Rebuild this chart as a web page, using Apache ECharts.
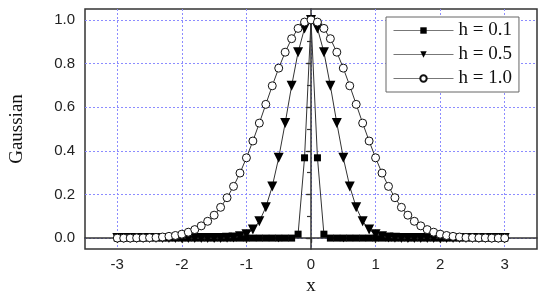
<!DOCTYPE html>
<html>
<head>
<meta charset="utf-8">
<script src="https://cdn.jsdelivr.net/npm/echarts@6/dist/echarts.min.js"></script>
<style>
  html, body { margin: 0; padding: 0; background: #fff; }
  #chart { width: 550px; height: 301px; }
</style>
</head>
<body>
<div id="chart"></div>
<script>
// x positions, step 0.1
const xs = [-3.0, -2.9, -2.8, -2.7, -2.6, -2.5, -2.4, -2.3, -2.2, -2.1,
  -2.0, -1.9, -1.8, -1.7, -1.6, -1.5, -1.4, -1.3, -1.2, -1.1,
  -1.0, -0.9, -0.8, -0.7, -0.6, -0.5, -0.4, -0.3, -0.2, -0.1,
  0.0, 0.1, 0.2, 0.3, 0.4, 0.5, 0.6, 0.7, 0.8, 0.9,
  1.0, 1.1, 1.2, 1.3, 1.4, 1.5, 1.6, 1.7, 1.8, 1.9,
  2.0, 2.1, 2.2, 2.3, 2.4, 2.5, 2.6, 2.7, 2.8, 2.9, 3.0];

const h01 = [0, 0, 0, 0, 0, 0, 0, 0, 0, 0,
  0, 0, 0, 0, 0, 0, 0, 0, 0, 0,
  0, 0, 0, 0, 0, 0, 0, 0, 0.018, 0.368,
  1.0, 0.368, 0.018, 0, 0, 0, 0, 0, 0, 0,
  0, 0, 0, 0, 0, 0, 0, 0, 0, 0,
  0, 0, 0, 0, 0, 0, 0, 0, 0, 0, 0];

const h05 = [0, 0, 0, 0, 0, 0, 0, 0, 0, 0,
  0, 0, 0, 0, 0, 0, 0, 0.001, 0.003, 0.008,
  0.018, 0.039, 0.077, 0.141, 0.237, 0.368, 0.527, 0.698, 0.852, 0.961,
  1.0, 0.961, 0.852, 0.698, 0.527, 0.368, 0.237, 0.141, 0.077, 0.039,
  0.018, 0.008, 0.003, 0.001, 0, 0, 0, 0, 0, 0,
  0, 0, 0, 0, 0, 0, 0, 0, 0, 0, 0];

const h10 = [0, 0, 0, 0.001, 0.001, 0.002, 0.003, 0.005, 0.008, 0.012,
  0.018, 0.027, 0.039, 0.056, 0.077, 0.105, 0.141, 0.185, 0.237, 0.298,
  0.368, 0.445, 0.527, 0.613, 0.698, 0.779, 0.852, 0.914, 0.961, 0.990,
  1.0, 0.990, 0.961, 0.914, 0.852, 0.779, 0.698, 0.613, 0.527, 0.445,
  0.368, 0.298, 0.237, 0.185, 0.141, 0.105, 0.077, 0.056, 0.039, 0.027,
  0.018, 0.012, 0.008, 0.005, 0.003, 0.002, 0.001, 0.001, 0, 0, 0];

const seriesNames = ['h = 0.1', 'h = 0.5', 'h = 1.0'];
const xLabels = [-3, -2, -1, 0, 1, 2, 3];
const xTicks = [-3, -2.5, -2, -1.5, -1, -0.5, 0, 0.5, 1, 1.5, 2, 2.5, 3];
const yLabels = [0, 0.2, 0.4, 0.6, 0.8, 1.0];
const yTicks = [0, 0.1, 0.2, 0.3, 0.4, 0.5, 0.6, 0.7, 0.8, 0.9, 1.0];

const pairs = ys => xs.map((x, i) => [x, ys[i]]);

const chart = echarts.init(document.getElementById('chart'));

const lineCol = '#333';
const labelStyle = { fontFamily: 'Liberation Sans', fontSize: 15, color: '#222' };
const nameStyle = { fontFamily: 'Liberation Serif', fontSize: 19, color: '#111' };
const gridLine = { show: true, lineStyle: { color: '#8c8cff', type: [2, 2], width: 1 } };
const tickLine = { color: '#333', width: 1.2 };

chart.setOption({
  animation: false,
  grid: {
    left: 83, right: 13, top: 9, bottom: 50,
    show: true, borderColor: '#333', borderWidth: 1.5
  },
  legend: {
    left: 386, top: 17,
    orient: 'vertical',
    itemWidth: 60, itemHeight: 8, itemGap: 5,
    padding: [4, 7, 4, 7],
    borderColor: '#666', borderWidth: 1,
    backgroundColor: '#fff',
    lineStyle: { color: '#777', width: 1 },
    textStyle: { fontFamily: 'Liberation Serif', fontSize: 19, color: '#111' },
    data: seriesNames
  },
  xAxis: [
    {
      type: 'value',
      min: -3.5, max: 3.5,
      name: 'x',
      nameLocation: 'middle', nameGap: 28,
      nameTextStyle: nameStyle,
      axisLine: { show: true, lineStyle: { color: '#333', width: 1.5 } },
      axisTick: { show: true, length: 5, customValues: xLabels, lineStyle: tickLine },
      axisLabel: Object.assign({ margin: 8, customValues: xLabels }, labelStyle),
      splitLine: gridLine
    },
    {
      // minor ticks only
      type: 'value', position: 'bottom',
      min: -3.5, max: 3.5,
      axisLine: { show: false },
      axisTick: { show: true, length: 4, customValues: xTicks, lineStyle: tickLine },
      axisLabel: { show: false },
      splitLine: { show: false }
    }
  ],
  yAxis: [
    {
      type: 'value',
      min: -0.05, max: 1.05,
      name: 'Gaussian',
      nameLocation: 'middle', nameGap: 58,
      nameTextStyle: nameStyle,
      axisLine: { show: true, lineStyle: { color: '#333', width: 1.5 } },
      axisTick: { show: true, length: 5, customValues: yLabels, lineStyle: tickLine },
      axisLabel: Object.assign({ margin: 10, customValues: yLabels, formatter: v => v.toFixed(1) }, labelStyle),
      splitLine: gridLine
    },
    {
      type: 'value', position: 'left',
      min: -0.05, max: 1.05,
      axisLine: { show: false },
      axisTick: { show: true, length: 4, customValues: yTicks, lineStyle: tickLine },
      axisLabel: { show: false },
      splitLine: { show: false }
    }
  ],
  series: [
    {
      name: seriesNames[0], type: 'line', data: pairs(h01),
      symbol: 'rect', symbolSize: 7, showAllSymbol: true,
      lineStyle: { color: lineCol, width: 1 },
      itemStyle: { color: '#000' }, z: 2
    },
    {
      name: seriesNames[1], type: 'line', data: pairs(h05),
      symbol: 'triangle', symbolSize: 10, symbolRotate: 180, showAllSymbol: true,
      lineStyle: { color: lineCol, width: 1 },
      itemStyle: { color: '#000' }, z: 3
    },
    {
      name: seriesNames[2], type: 'line', data: pairs(h10),
      symbol: 'circle', symbolSize: 8, showAllSymbol: true,
      lineStyle: { color: lineCol, width: 1 },
      itemStyle: { color: '#fff', borderColor: '#111', borderWidth: 1 }, z: 4
    }
  ]
});
</script>
</body>
</html>
